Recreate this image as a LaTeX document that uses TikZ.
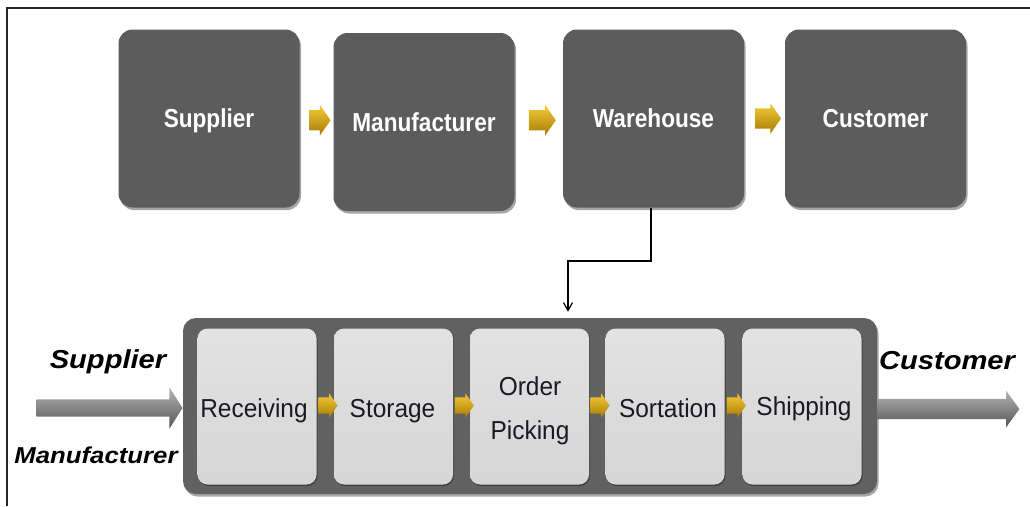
\documentclass[tikz,border=0pt]{standalone}
\usepackage{fontspec}
\setmainfont{Liberation Sans}
\newfontfamily\topfont{Liberation Sans}[FakeStretch=0.87]
\newfontfamily\stepfont{Liberation Sans}[FakeStretch=0.94]
\newfontfamily\sidefont{Liberation Sans}[FakeStretch=1.12]
\usetikzlibrary{shapes.arrows,shadows,arrows.meta,calc}

\definecolor{boxdark}{HTML}{5C5C5C}
\definecolor{framedark}{HTML}{616161}
\definecolor{steplight}{HTML}{E2E2E2}
\definecolor{stepmid}{HTML}{D6D6D6}
\definecolor{goldlight}{HTML}{F4CB3A}
\definecolor{golddark}{HTML}{A87C04}
\definecolor{greylight}{HTML}{B4B4B4}
\definecolor{greymid}{HTML}{7A7A7A}
\definecolor{greydark}{HTML}{555555}
\definecolor{inktext}{HTML}{1A1A22}

\tikzset{
  softshadow/.style={drop shadow={shadow xshift=1.5pt, shadow yshift=-2.5pt, opacity=0.35, fill=black}},
  topbox/.style={rectangle, rounded corners=14pt, minimum width=181pt, minimum height=178pt,
    inner sep=0pt, fill=boxdark, softshadow},
  toptext/.style={anchor=base, inner sep=0pt, text=white,
    font=\topfont\bfseries\fontsize{26}{31}\selectfont},
  container/.style={rectangle, rounded corners=13pt, minimum width=694pt, minimum height=176pt,
    inner sep=0pt, fill=framedark, softshadow},
  stepbox/.style={rectangle, rounded corners=10pt, minimum width=119pt, minimum height=156pt,
    inner sep=0pt, top color=steplight, bottom color=stepmid, draw=none,
    drop shadow={shadow xshift=1pt, shadow yshift=-1.5pt, opacity=0.3, fill=black}},
  steptext/.style={anchor=base, inner sep=0pt, text=inktext, align=center,
    font=\stepfont\fontsize{26}{44}\selectfont},
  goldarrow/.style={single arrow, single arrow head extend=5pt, single arrow tip angle=110,
    inner xsep=1pt, inner ysep=10pt, minimum height=25pt, draw=none,
    top color=goldlight, bottom color=golddark},
  smallgold/.style={goldarrow, inner ysep=8pt, single arrow head extend=4pt, minimum height=19pt},
  greyarrow/.style={single arrow, inner xsep=1pt, draw=none,
    top color=greylight, middle color=greymid, bottom color=greydark},
  sidetext/.style={anchor=base, inner sep=0pt, text=black,
    font=\sidefont\bfseries\itshape},
  conn/.style={line width=1.2pt, -{Straight Barb[length=8pt, width=9pt, line width=1.2pt]}},
}

\begin{document}
\begin{tikzpicture}[x=1pt, y=-1pt]
\useasboundingbox (0,0) rectangle (1030,506);

% page frame (top and left edges)
\draw[line width=1.4pt, black!85] (7,506) -- (7,8) -- (1030,8);

% supply chain row
\node[topbox] (sup) at (209,118.5) {};
\node[topbox] (man) at (424,122) {};
\node[topbox] (wh)  at (653.5,118.5) {};
\node[topbox] (cus) at (875.5,118.5) {};

\node[toptext] (tsup) at ([yshift=-9.3pt]sup.center) {Supplier};
\node[toptext] (tman) at ([yshift=-9.3pt]man.center) {Manufacturer};
\node[toptext] (twh)  at ([yshift=-9.3pt]wh.center)  {Warehouse};
\node[toptext] (tcus) at ([yshift=-9.3pt]cus.center) {Customer};

\node[goldarrow, minimum height=21pt] (g1) at ($(sup.east)!0.5!(man.west)$) {};
\node[goldarrow, minimum height=27pt] (g2) at ($(man.east)!0.5!(wh.west)$) {};
\node[goldarrow, minimum height=26pt] (g3) at ($(wh.east)!0.5!(cus.west)$) {};

% warehouse process
\node[container] (cont) at (530,406) {};

\node[stepbox] (rec) at (257,406.5) {};
\node[stepbox] (sto) at (393.5,406.5) {};
\node[stepbox] (ord) at (529.5,406.5) {};
\node[stepbox] (sor) at (665,406.5) {};
\node[stepbox] (shi) at (802,406.5) {};

\node[steptext] (trec) at ([xshift=-3pt, yshift=-10.5pt]rec.center) {Receiving};
\node[steptext] (tsto) at ([xshift=-1pt, yshift=-10.5pt]sto.center) {Storage};
\node[steptext] (tord1) at (530,395.5) {Order};
\node[steptext] (tord2) at (530,439) {Picking};
\node[steptext] (tsor) at ([xshift=3pt, yshift=-10.5pt]sor.center) {Sortation};
\node[steptext] (tshi) at ([xshift=2pt, yshift=-9pt]shi.center) {Shipping};

\node[smallgold] (s1) at ([yshift=1pt]$(rec.east)!0.5!(sto.west)$) {};
\node[smallgold] (s2) at ([yshift=1pt]$(sto.east)!0.5!(ord.west)$) {};
\node[smallgold] (s3) at ([yshift=1pt]$(ord.east)!0.5!(sor.west)$) {};
\node[smallgold] (s4) at ([yshift=1pt]$(sor.east)!0.5!(shi.west)$) {};

% inbound and outbound flows
\node[greyarrow, inner ysep=8.5pt, single arrow head extend=12pt, single arrow tip angle=115,
      minimum height=146pt, anchor=tip] (inflow) at ([yshift=-2pt]cont.west) {};
\node[greyarrow, inner ysep=10pt, single arrow head extend=8pt, single arrow tip angle=108,
      minimum height=142pt, anchor=tail] (outflow) at ([yshift=-3pt]cont.east) {};

\node[sidetext, font=\sidefont\bfseries\itshape\fontsize{26}{31}\selectfont] (lsup) at (108,368) {Supplier};
\node[sidetext, font=\sidefont\bfseries\itshape\fontsize{23}{28}\selectfont] (lman) at (96,463) {Manufacturer};
\node[sidetext, font=\sidefont\bfseries\itshape\fontsize{26}{31}\selectfont] (lcus) at (947,369) {Customer};

% link from the warehouse to its internal process
\coordinate (bend) at (568,261);
\draw[conn, shorten >=6pt] ([xshift=-2.5pt]wh.south) |- (bend) -- (bend |- cont.north);
\end{tikzpicture}
\end{document}
